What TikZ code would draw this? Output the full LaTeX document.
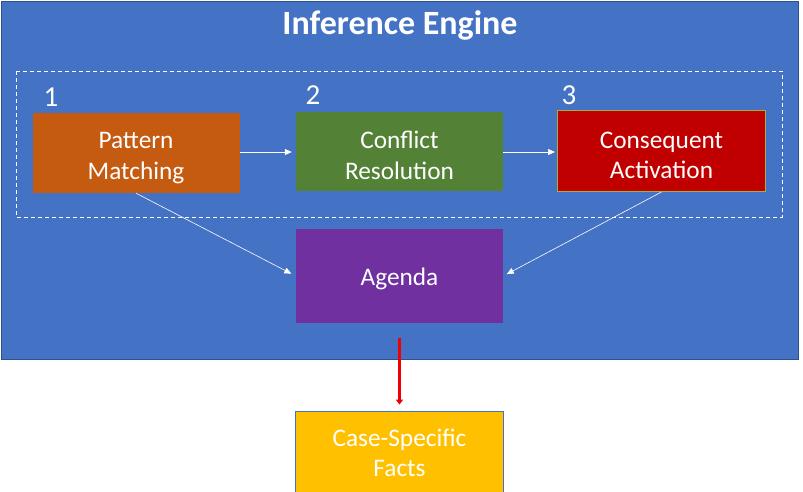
\documentclass[tikz,border=0pt]{standalone}
\usepackage{fontspec}
\setmainfont{Carlito}
\usetikzlibrary{arrows.meta}
\definecolor{engblue}{HTML}{4472C4}
\definecolor{engborder}{HTML}{2F528F}
\definecolor{pmorange}{HTML}{C55A11}
\definecolor{crgreen}{HTML}{538135}
\definecolor{cared}{HTML}{C00000}
\definecolor{caborder}{HTML}{A3B03A}
\definecolor{agpurple}{HTML}{7030A0}
\definecolor{cfyellow}{HTML}{FFC000}
\definecolor{arrred}{HTML}{F00000}
\tikzset{
  stepbox/.style={minimum width=207pt, minimum height=80pt, inner sep=0pt},
  boxtext/.style={align=center, text=white, inner sep=0pt, font=\fontsize{25.3}{30.5}\selectfont},
  flow/.style={white, line width=0.6pt, -{Triangle[length=7pt,width=6pt]}},
  numlabel/.style={text=white, font=\fontsize{29}{30}\selectfont, inner sep=0pt}
}
\begin{document}
\begin{tikzpicture}[x=1pt,y=-1pt]
\useasboundingbox (0,0) rectangle (803,491);
\fill[white] (0,0) rectangle (803,491);
\draw[fill=engblue, draw=engborder, line width=1pt] (1,1) rectangle (798,359);
\node[text=white, font=\bfseries\fontsize{34}{38}\selectfont] (title) at (400,25) {Inference Engine};
\draw[white, dashed, line width=1pt, dash pattern=on 4pt off 3pt] (16,71) rectangle (782,217);
\node[numlabel] (n1) at (51,97) {1};
\node[numlabel] (n2) at (313,95) {2};
\node[numlabel] (n3) at (569,95) {3};
\node[stepbox, fill=pmorange] (pm) at (136,153) {};
\node[stepbox, fill=crgreen, minimum height=79pt] (cr) at (399.5,151) {};
\node[stepbox, fill=cared, draw=caborder, line width=1pt, minimum width=208pt, minimum height=81pt] (ca) at (661.5,151) {};
\node[stepbox, fill=agpurple, minimum height=94pt] (ag) at (399.5,276) {};
\node[stepbox, fill=cfyellow, draw=engblue, line width=0.8pt, minimum width=208pt, minimum height=84pt] (cf) at (399.5,453) {};
\node[boxtext] (pmt) at ([yshift=-5pt]pm.center) {Pattern\\Matching};
\node[boxtext] (crt) at ([yshift=-4.5pt]cr.center) {Conflict\\Resolution};
\node[boxtext] (cat) at ([yshift=-4.5pt]ca.center) {Consequent\\Activation};
\node[boxtext] (agt) at ([yshift=-3pt]ag.center) {Agenda};
\node[boxtext] (cft) at (cf.center) {Case-Specific\\Facts};
\draw[flow, shorten >=4pt] (pm.east |- 0,152) -- (cr.west |- 0,152);
\draw[flow, shorten >=2pt] (cr.east |- 0,152) -- (ca.west |- 0,152);
\draw[flow, shorten >=5pt] (pm.south) -- (ag.west);
\draw[flow, shorten >=4pt] (ca.south) -- (ag.east);
\draw[arrred, line width=2.6pt, -{Triangle[length=5pt,width=7pt]}, shorten <=15pt, shorten >=6pt] (ag.south) -- (cf.north);
\end{tikzpicture}
\end{document}
